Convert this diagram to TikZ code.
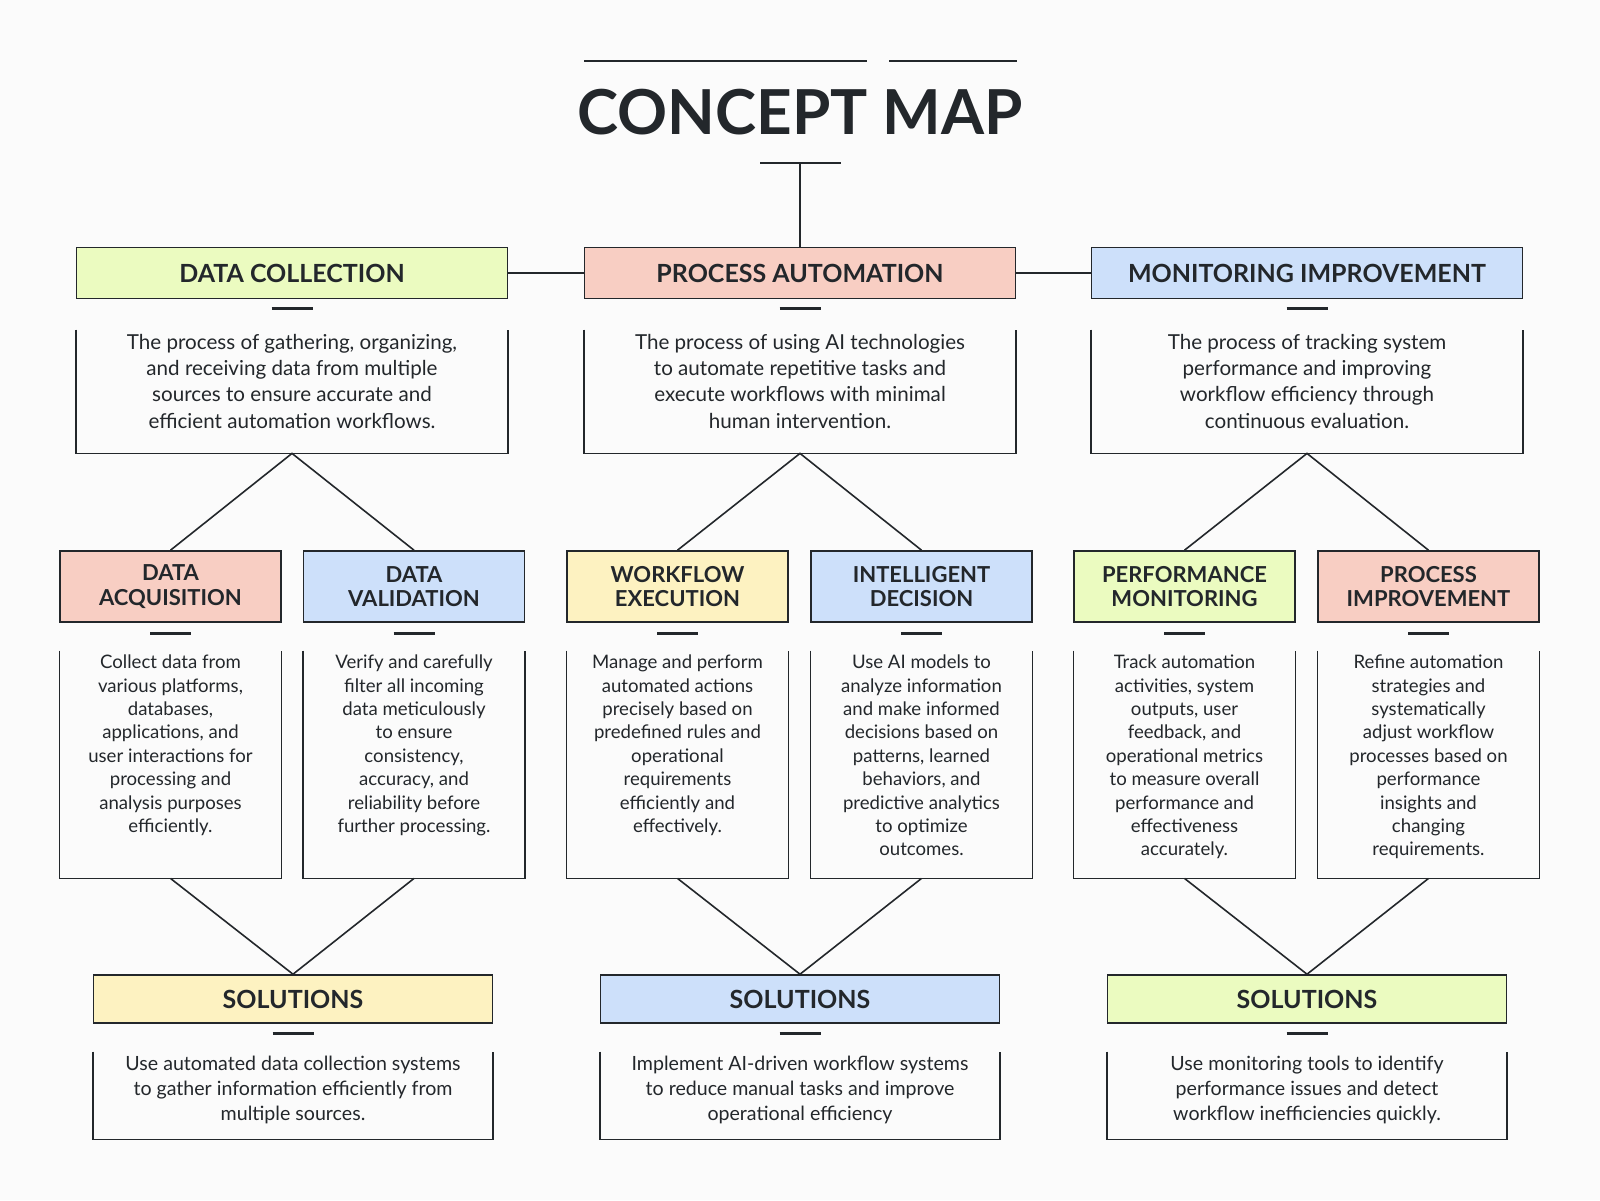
\documentclass[tikz,border=0pt]{standalone}
\usepackage{fontspec}
\setmainfont{Lato}
\usetikzlibrary{positioning}
\definecolor{bgc}{HTML}{FBFBFB}
\definecolor{ink}{HTML}{23272B}
\definecolor{cgreen}{HTML}{EBFBC0}
\definecolor{cpink}{HTML}{F8CEC3}
\definecolor{cblue}{HTML}{CDE0FA}
\definecolor{cyellow}{HTML}{FDF2C1}
\tikzset{
  head/.style={draw=ink, thick, inner sep=0pt, minimum width=215.5pt, minimum height=25.5pt,
    font=\bfseries\fontsize{12.5}{14}\selectfont, text=ink},
  sub/.style={draw=ink, thick, inner sep=0pt, minimum width=110.5pt, minimum height=35.5pt,
    align=center, font=\bfseries\fontsize{11}{12.3}\selectfont, text=ink},
  sol/.style={head, minimum width=199.5pt, minimum height=24pt},
  box/.style={inner sep=0pt},
  txt/.style={anchor=north, align=center, text=ink, inner sep=0pt},
  bigtxt/.style={txt, font=\fontsize{10.3}{13.2}\selectfont},
  smalltxt/.style={txt, font=\fontsize{9.3}{11.7}\selectfont},
  link/.style={draw=ink, thick},
  bar/.style={draw=ink, line width=1.5pt},
}
\newcommand{\openbox}[1]{\draw[link] (#1.north west) -- (#1.south west) -- (#1.south east) -- (#1.north east);}
\begin{document}
\begin{tikzpicture}[x=0.5pt, y=-0.5pt]
  \fill[bgc] (0,0) rectangle (1600,1200);
  \useasboundingbox (0,0) rectangle (1600,1200);

  % title
  \node[text=ink, font=\bfseries\fontsize{31}{34}\selectfont] (title) at (800,112) {CONCEPT MAP};
  \draw[link] (584,61) -- (867,61);
  \draw[link] (889,61) -- (1017,61);
  \coordinate (tstem) at (800,163);
  \draw[link] (760,163) -- (841,163);

  % first row
  \node[head, fill=cgreen] (dc) at (292,273) {DATA COLLECTION};
  \node[head, fill=cpink] (pa) at (800,273) {PROCESS AUTOMATION};
  \node[head, fill=cblue] (mi) at (1307,273) {MONITORING IMPROVEMENT};
  \draw[link] (tstem) -- (pa);
  \draw[link] (dc) -- (pa);
  \draw[link] (pa) -- (mi);

  \foreach \n/\x in {dc/292, pa/800, mi/1307} {
    \draw[bar] (\x-20.5,308) -- (\x+20.5,308);
    \node[box, minimum width=215.5pt, minimum height=61.5pt] (\n d) at (\x,391.5) {};
    \openbox{\n d}
  }
  \node[bigtxt] at ([yshift=-2pt]dcd.north) {The process of gathering, organizing,\\and receiving data from multiple\\sources to ensure accurate and\\efficient automation workflows.};
  \node[bigtxt] at ([yshift=-2pt]pad.north) {The process of using AI technologies\\to automate repetitive tasks and\\execute workflows with minimal\\human intervention.};
  \node[bigtxt] at ([yshift=-2pt]mid.north) {The process of tracking system\\performance and improving\\workflow efficiency through\\continuous evaluation.};

  % second row
  \node[sub, fill=cpink] (acq) at (170.5,586.5) {DATA\\ACQUISITION};
  \node[sub, fill=cblue] (val) at (414,586.5) {DATA\\VALIDATION};
  \node[sub, fill=cyellow] (wfe) at (677.5,586.5) {WORKFLOW\\EXECUTION};
  \node[sub, fill=cblue] (int) at (921.5,586.5) {INTELLIGENT\\DECISION};
  \node[sub, fill=cgreen] (pmo) at (1184.5,586.5) {PERFORMANCE\\MONITORING};
  \node[sub, fill=cpink] (pim) at (1428.5,586.5) {PROCESS\\IMPROVEMENT};
  \draw[link] (acq.north) -- (dcd.south) -- (val.north);
  \draw[link] (wfe.north) -- (pad.south) -- (int.north);
  \draw[link] (pmo.north) -- (mid.south) -- (pim.north);

  \foreach \n/\x in {acq/170.5, val/414, wfe/677.5, int/921.5, pmo/1184.5, pim/1428.5} {
    \draw[bar] (\x-20.5,633) -- (\x+20.5,633);
    \node[box, minimum width=110.5pt, minimum height=113.5pt] (\n d) at (\x,764.5) {};
    \openbox{\n d}
  }
  \node[smalltxt] at ([yshift=-2pt]acqd.north) {Collect data from\\various platforms,\\databases,\\applications, and\\user interactions for\\processing and\\analysis purposes\\efficiently.};
  \node[smalltxt] at ([yshift=-2pt]vald.north) {Verify and carefully\\filter all incoming\\data meticulously\\to ensure\\consistency,\\accuracy, and\\reliability before\\further processing.};
  \node[smalltxt] at ([yshift=-2pt]wfed.north) {Manage and perform\\automated actions\\precisely based on\\predefined rules and\\operational\\requirements\\efficiently and\\effectively.};
  \node[smalltxt] at ([yshift=-2pt]intd.north) {Use AI models to\\analyze information\\and make informed\\decisions based on\\patterns, learned\\behaviors, and\\predictive analytics\\to optimize\\outcomes.};
  \node[smalltxt] at ([yshift=-2pt]pmod.north) {Track automation\\activities, system\\outputs, user\\feedback, and\\operational metrics\\to measure overall\\performance and\\effectiveness\\accurately.};
  \node[smalltxt] at ([yshift=-2pt]pimd.north) {Refine automation\\strategies and\\systematically\\adjust workflow\\processes based on\\performance\\insights and\\changing\\requirements.};

  % solutions
  \node[sol, fill=cyellow] (s1) at (293,999) {SOLUTIONS};
  \node[sol, fill=cblue] (s2) at (800,999) {SOLUTIONS};
  \node[sol, fill=cgreen] (s3) at (1307,999) {SOLUTIONS};
  \draw[link] (acqd.south) -- (s1.north) -- (vald.south);
  \draw[link] (wfed.south) -- (s2.north) -- (intd.south);
  \draw[link] (pmod.south) -- (s3.north) -- (pimd.south);

  \foreach \n/\x in {s1/293, s2/800, s3/1307} {
    \draw[bar] (\x-20.5,1033) -- (\x+20.5,1033);
    \node[box, minimum width=199.5pt, minimum height=43.5pt] (\n d) at (\x,1095.5) {};
    \openbox{\n d}
  }
  \node[bigtxt, font=\fontsize{9.8}{12.4}\selectfont] at ([yshift=-2pt]s1d.north) {Use automated data collection systems\\to gather information efficiently from\\multiple sources.};
  \node[bigtxt, font=\fontsize{9.8}{12.4}\selectfont] at ([yshift=-2pt]s2d.north) {Implement AI-driven workflow systems\\to reduce manual tasks and improve\\operational efficiency};
  \node[bigtxt, font=\fontsize{9.8}{12.4}\selectfont] at ([yshift=-2pt]s3d.north) {Use monitoring tools to identify\\performance issues and detect\\workflow inefficiencies quickly.};
\end{tikzpicture}
\end{document}
